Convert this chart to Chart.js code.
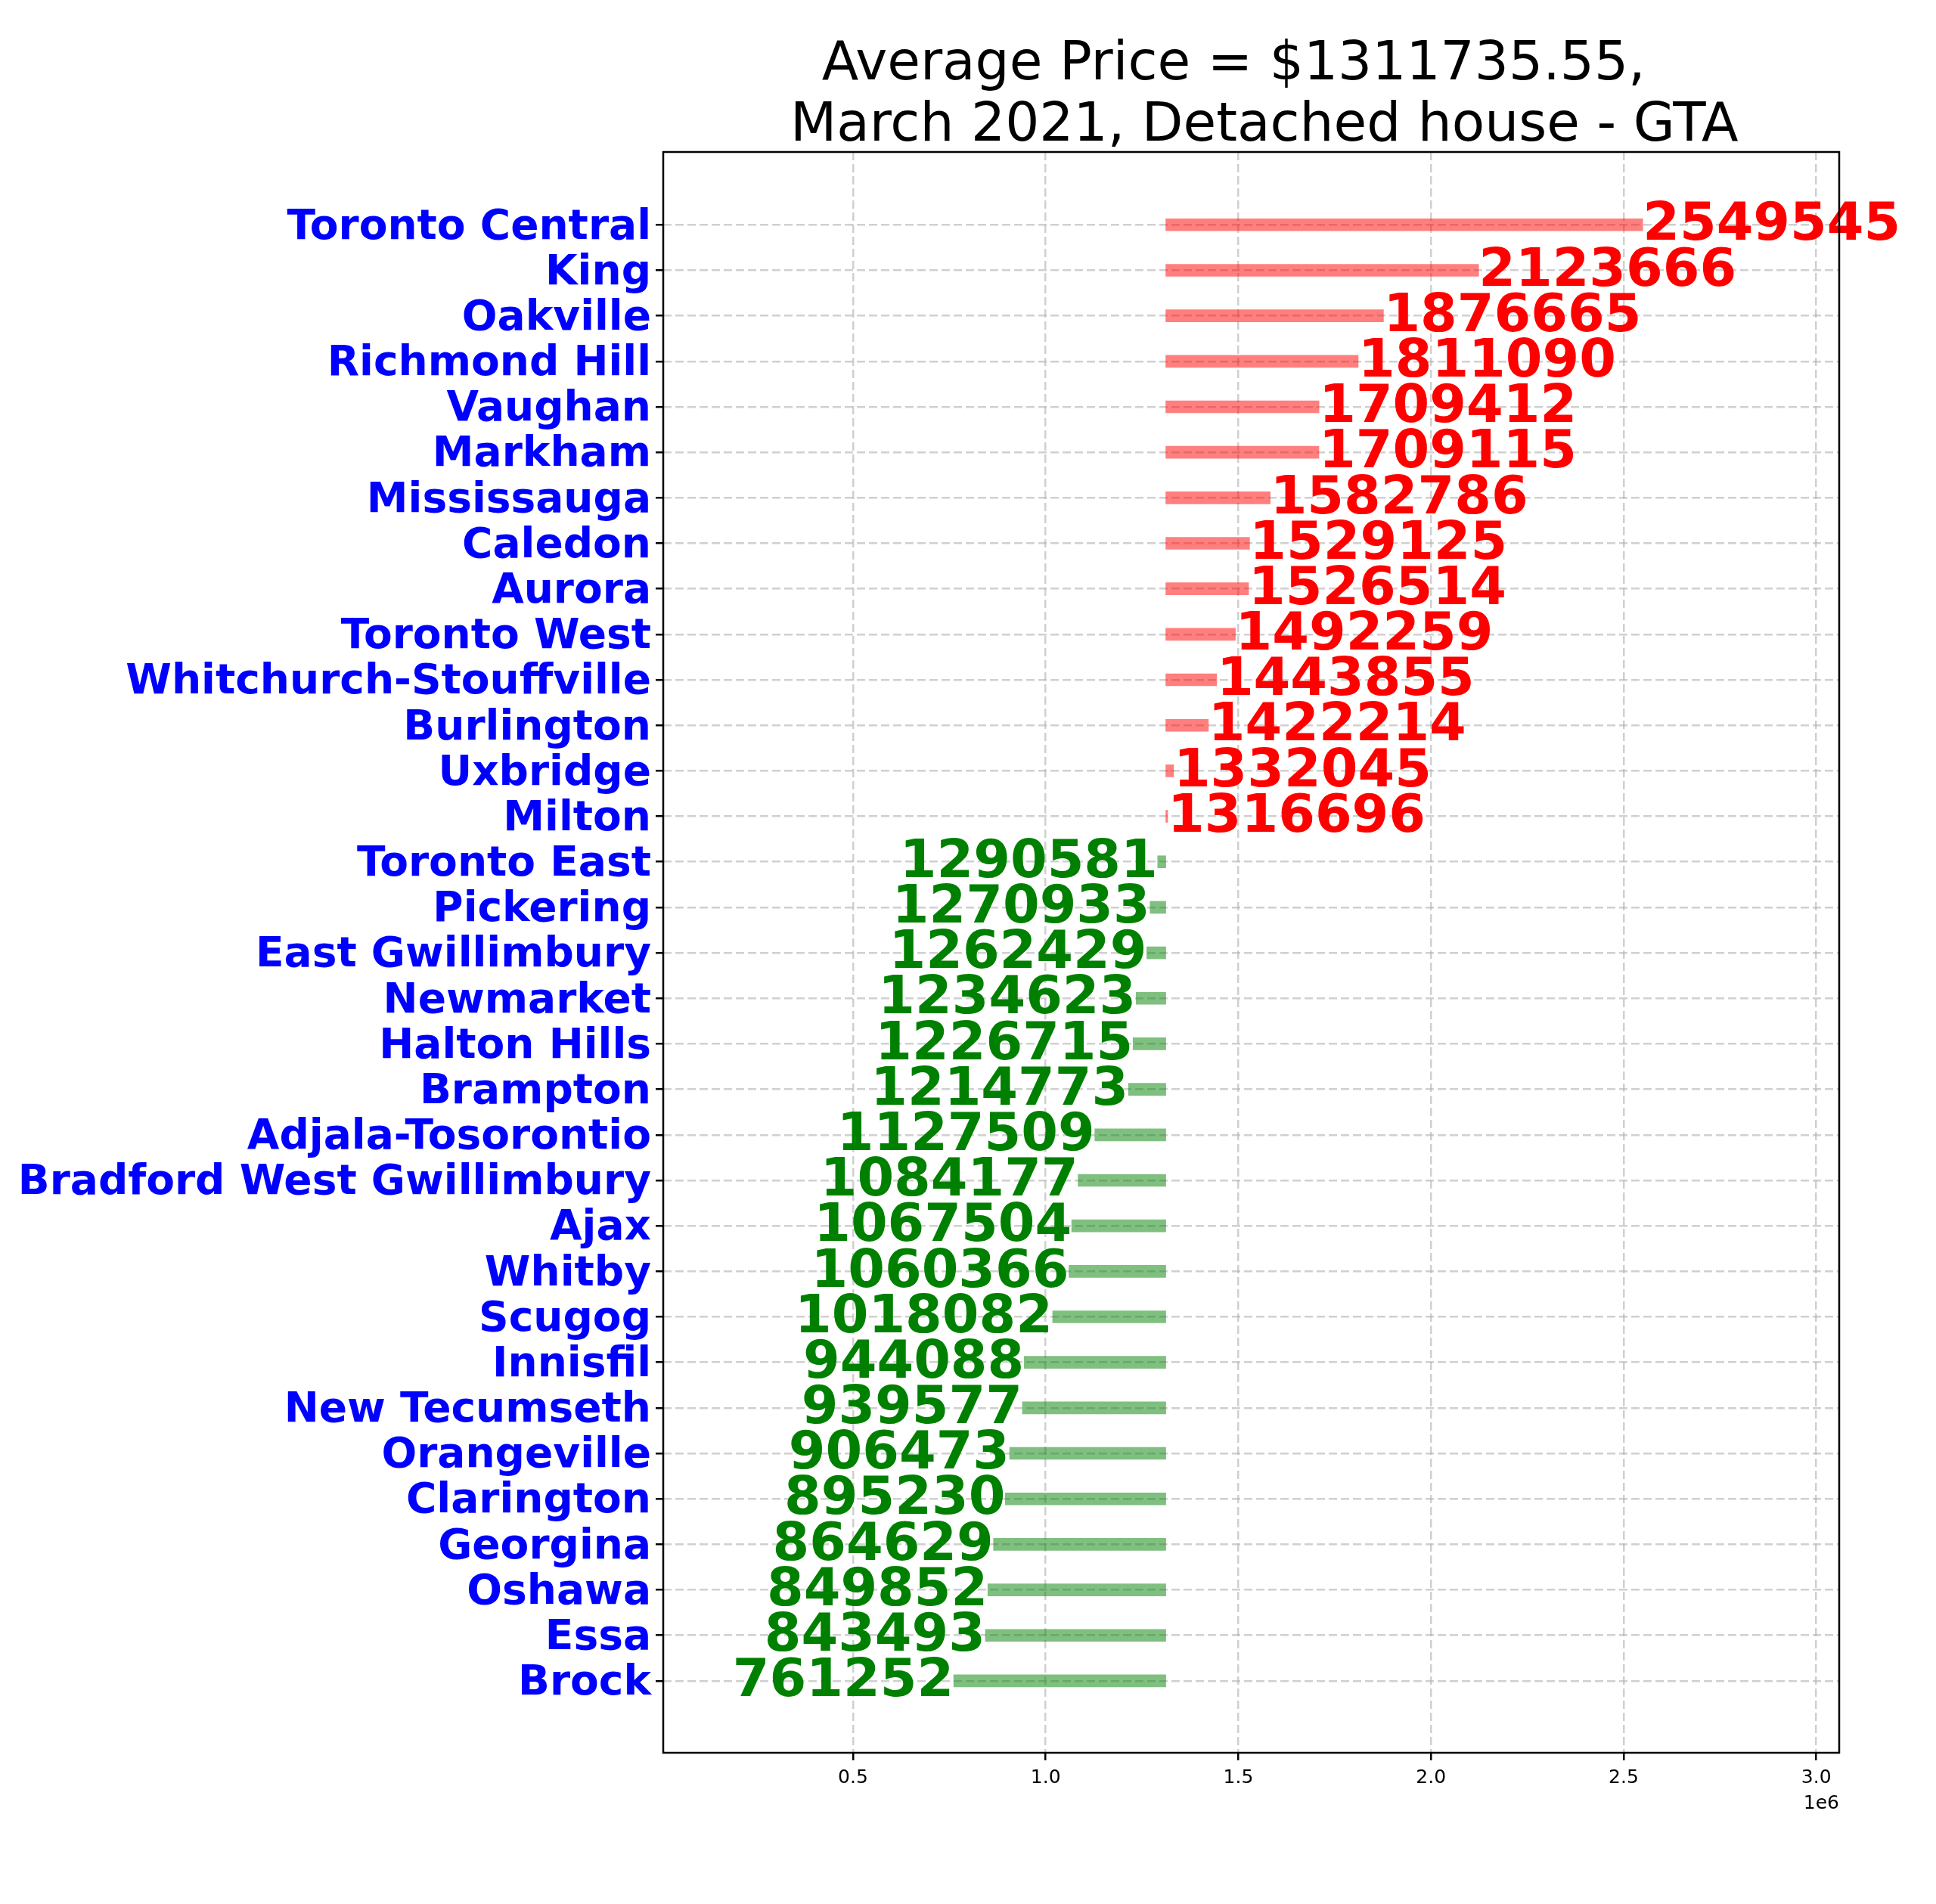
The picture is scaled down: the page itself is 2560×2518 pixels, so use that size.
<!DOCTYPE html>
<html>
<head>
<meta charset="utf-8">
<script src="https://cdn.jsdelivr.net/npm/chart.js@4/dist/chart.umd.min.js"></script>
<style>
  html, body { margin: 0; padding: 0; background: #ffffff; }
  #wrap { width: 2560px; height: 2518px; position: relative; }
</style>
</head>
<body>
<div id="wrap"><canvas id="c" width="2560" height="2518"></canvas></div>
<script>
// ---- data ----
const titleLines = ['Average Price = $1311735.55, ', ' March 2021, Detached house - GTA'];
const averagePrice = 1311735.55;
const regions = [
  'Toronto Central', 'King', 'Oakville', 'Richmond Hill', 'Vaughan', 'Markham',
  'Mississauga', 'Caledon', 'Aurora', 'Toronto West', 'Whitchurch-Stouffville',
  'Burlington', 'Uxbridge', 'Milton', 'Toronto East', 'Pickering', 'East Gwillimbury',
  'Newmarket', 'Halton Hills', 'Brampton', 'Adjala-Tosorontio', 'Bradford West Gwillimbury',
  'Ajax', 'Whitby', 'Scugog', 'Innisfil', 'New Tecumseth', 'Orangeville', 'Clarington',
  'Georgina', 'Oshawa', 'Essa', 'Brock'
];
const prices = [
  2549545, 2123666, 1876665, 1811090, 1709412, 1709115,
  1582786, 1529125, 1526514, 1492259, 1443855,
  1422214, 1332045, 1316696, 1290581, 1270933, 1262429,
  1234623, 1226715, 1214773, 1127509, 1084177,
  1067504, 1060366, 1018082, 944088, 939577, 906473, 895230,
  864629, 849852, 843493, 761252
];
const xTickValues = [0.5, 1.0, 1.5, 2.0, 2.5, 3.0];
const xOffsetLabel = '1e6';

// ---- styles ----
const FONT = "'DejaVu Sans', 'Liberation Sans', sans-serif";
const ABOVE_BAR = 'rgba(255,0,0,0.5)';
const BELOW_BAR = 'rgba(0,128,0,0.5)';
const ABOVE_TXT = '#ff0000';
const BELOW_TXT = '#008000';
const GRID = 'rgba(176,176,176,0.6)';

const barData = prices.map((v, i) => ({ y: i, x: [averagePrice, v] }));

const framePlugin = {
  id: 'frame',
  afterDraw(chart) {
    const ctx = chart.ctx, a = chart.chartArea;
    ctx.save();
    ctx.strokeStyle = '#000';
    ctx.lineWidth = 2.5;
    ctx.strokeRect(a.left, a.top, a.right - a.left, a.bottom - a.top);
    ctx.fillStyle = '#000';
    ctx.font = '25px ' + FONT;
    ctx.textAlign = 'right';
    ctx.textBaseline = 'top';
    ctx.fillText(xOffsetLabel, a.right, a.bottom + 55);
    ctx.font = '71px ' + FONT;
    ctx.textAlign = 'center';
    ctx.textBaseline = 'alphabetic';
    const cx = (a.left + a.right) / 2;
    ctx.fillText(titleLines[0], cx - 12, 105);
    ctx.fillText(titleLines[1], cx + 6, 186);
    // category labels on the y axis
    const ys = chart.scales.y;
    ctx.font = 'bold 55px ' + FONT;
    ctx.fillStyle = '#0000ff';
    ctx.textAlign = 'right';
    ctx.textBaseline = 'middle';
    regions.forEach((r, i) => {
      ctx.fillText(r, a.left - 16, ys.getPixelForValue(i) + 4);
    });
    ctx.restore();
  }
};

const valueLabelPlugin = {
  id: 'valueLabels',
  afterDatasetsDraw(chart) {
    const ctx = chart.ctx;
    const xs = chart.scales.x, ys = chart.scales.y;
    ctx.save();
    ctx.font = 'bold 70px ' + FONT;
    ctx.textBaseline = 'middle';
    prices.forEach((v, i) => {
      const px = xs.getPixelForValue(v);
      const py = ys.getPixelForValue(i) + 2;
      if (v >= averagePrice) {
        ctx.fillStyle = ABOVE_TXT;
        ctx.textAlign = 'left';
      } else {
        ctx.fillStyle = BELOW_TXT;
        ctx.textAlign = 'right';
      }
      ctx.fillText(String(v), px, py);
    });
    ctx.restore();
  }
};

const gridCfg = {
  offset: false,
  color: GRID,
  lineWidth: 2.5,
  tickColor: '#000',
  tickLength: 10,
  tickWidth: 2.5,
  tickBorderDash: [],
  drawTicks: true
};

new Chart(document.getElementById('c'), {
  type: 'bar',
  data: {
    datasets: [{
      data: barData,
      backgroundColor: prices.map(v => v >= averagePrice ? ABOVE_BAR : BELOW_BAR),
      borderWidth: 0,
      barThickness: 16,
      borderSkipped: false
    }]
  },
  options: {
    indexAxis: 'y',
    responsive: false,
    animation: false,
    devicePixelRatio: 1,
    layout: { padding: { left: 0, right: 128, top: 201, bottom: 100 } },
    plugins: { legend: { display: false }, title: { display: false }, tooltip: { enabled: false } },
    scales: {
      x: {
        type: 'linear',
        offset: false,
        min: 7400,
        max: 3059400,
        afterBuildTicks(scale) { scale.ticks = xTickValues.map(v => ({ value: v * 1e6 })); },
        afterFit(scale) { scale.height = 100; },
        border: { display: false, dash: [11, 5] },
        grid: gridCfg,
        ticks: {
          color: '#000',
          font: { family: FONT, size: 25 },
          padding: 8,
          maxRotation: 0,
          callback: v => (v / 1e6).toFixed(1)
        }
      },
      y: {
        type: 'linear',
        offset: false,
        reverse: true,
        min: -1.6,
        max: 33.58,
        afterBuildTicks(scale) { scale.ticks = regions.map((r, i) => ({ value: i })); },
        afterFit(scale) { scale.width = 877; },
        border: { display: false, dash: [11, 5] },
        grid: gridCfg,
        ticks: {
          color: 'rgba(0,0,0,0)',
          font: { family: FONT, size: 10 },
          padding: 6,
          autoSkip: false,
          callback: () => ''
        }
      }
    }
  },
  plugins: [framePlugin, valueLabelPlugin]
});
</script>
</body>
</html>
